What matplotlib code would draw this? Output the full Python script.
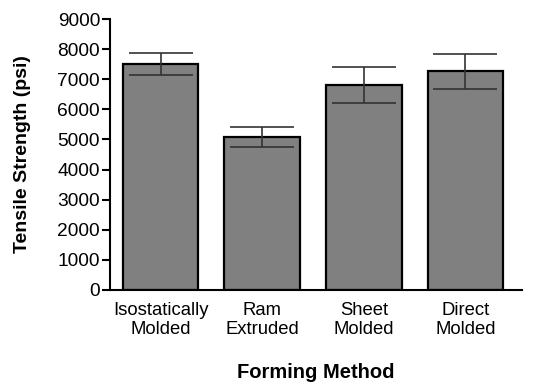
import numpy as np
import matplotlib.pyplot as plt

plt.rcParams['font.family'] = ['Liberation Sans', 'DejaVu Sans']

methods = ["Isostatically\nMolded", "Ram\nExtruded", "Sheet\nMolded", "Direct\nMolded"]
strength = [7500, 5090, 6800, 7260]
err = [360, 330, 590, 590]

fig = plt.figure(figsize=(5.33, 3.88), dpi=100)
ax = fig.add_axes([0.206, 0.2526, 0.774, 0.6984])

x = np.arange(len(methods))
ax.bar(x, strength, width=0.745, color="#808080", edgecolor="black", linewidth=1.6, zorder=2)
ax.errorbar(x, strength, yerr=err, fmt="none", ecolor="#333333", elinewidth=1.2,
            capsize=23, capthick=1.2, zorder=3)

ax.set_xlim(-0.5, 3.56)
ax.set_ylim(0, 9000)
ax.set_yticks(range(0, 9001, 1000))
ax.set_xticks(x)
ax.set_xticklabels(methods, fontsize=13.3, linespacing=1.15)
ax.tick_params(axis="x", length=0, pad=9)
ax.tick_params(axis="y", labelsize=13.8, length=6, width=1.5, pad=1)

for s in ["top", "right"]:
    ax.spines[s].set_visible(False)
for s in ["left", "bottom"]:
    ax.spines[s].set_linewidth(1.5)

ax.set_ylabel("Tensile Strength (psi)", fontsize=14, fontweight="bold", labelpad=19)
ax.set_xlabel("Forming Method", fontsize=14.5, fontweight="bold", labelpad=18)

fig.savefig("out.png", dpi=100)
